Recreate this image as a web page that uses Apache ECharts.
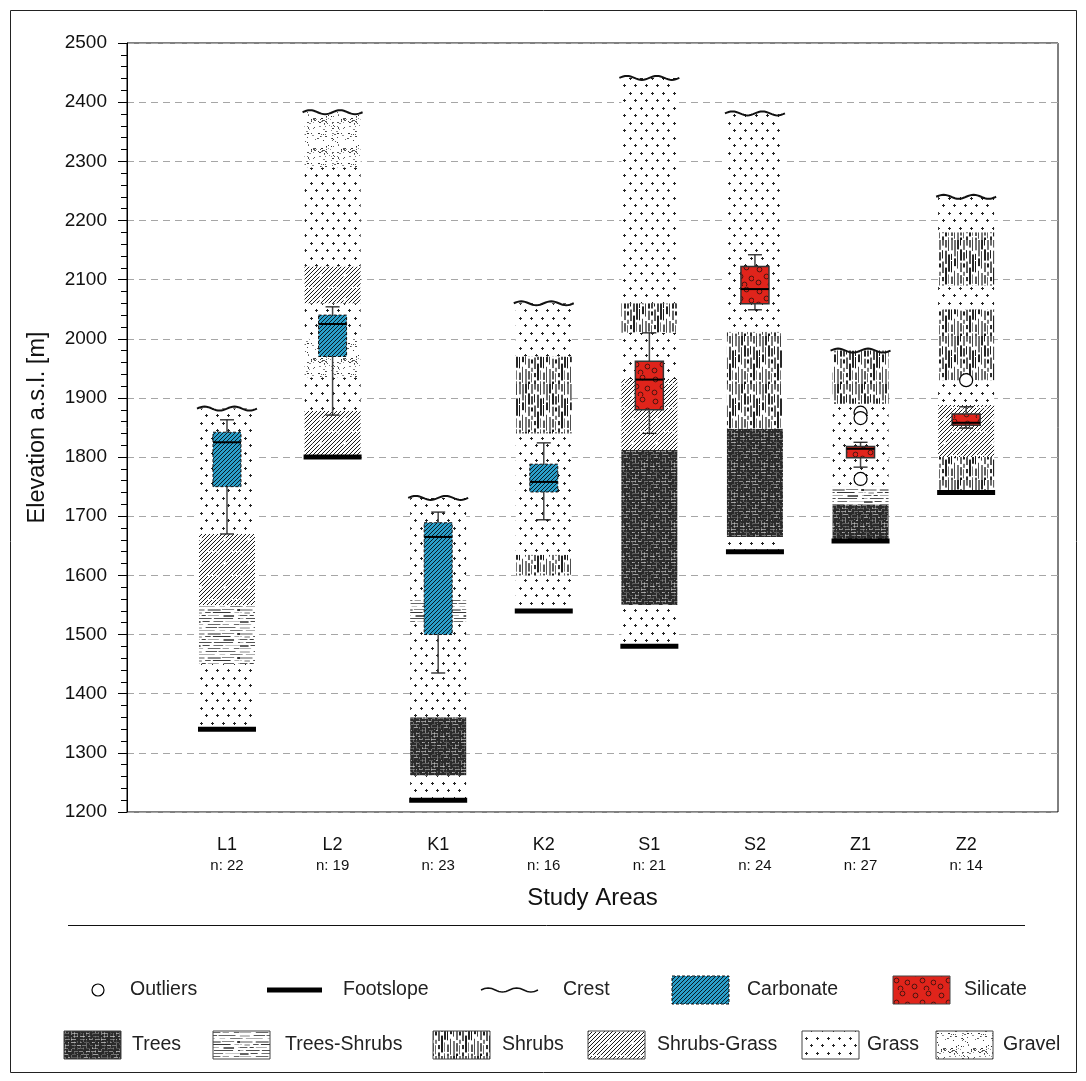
<!DOCTYPE html>
<html>
<head>
<meta charset="utf-8">
<script src="https://cdn.jsdelivr.net/npm/echarts@6/dist/echarts.min.js"></script>
<style>
  html, body { margin: 0; padding: 0; background: #fff; }
  #chart { width: 1086px; height: 1081px; }
</style>
</head>
<body>
<div id="chart"></div>
<script>
// study areas along the x axis
var areas = ['L1', 'L2', 'K1', 'K2', 'S1', 'S2', 'Z1', 'Z2'];
var sampleSizes = [22, 19, 23, 16, 21, 24, 27, 14];
var footslope = [1340, 1800, 1220, 1540, 1480, 1640, 1658, 1740];
var crest = [1882, 2383, 1731, 2060, 2441, 2381, 1980, 2240];
var rockType = ['Carbonate', 'Carbonate', 'Carbonate', 'Carbonate', 'Silicate', 'Silicate', 'Silicate', 'Silicate'];

// vegetation belts: [from, to, belt]
var beltsL1 = [[1340, 1450, 'Grass'], [1450, 1550, 'Trees-Shrubs'], [1550, 1670, 'Shrubs-Grass'], [1670, 1882, 'Grass']];
var beltsL2 = [[1800, 1878, 'Shrubs-Grass'], [1878, 1935, 'Grass'], [1935, 2000, 'Gravel'], [2000, 2060, 'Grass'],
               [2060, 2122, 'Shrubs-Grass'], [2122, 2290, 'Grass'], [2290, 2383, 'Gravel']];
var beltsK1 = [[1220, 1262, 'Grass'], [1262, 1360, 'Trees'], [1360, 1520, 'Grass'], [1520, 1560, 'Trees-Shrubs'], [1560, 1731, 'Grass']];
var beltsK2 = [[1540, 1600, 'Grass'], [1600, 1635, 'Shrubs'], [1635, 1840, 'Grass'], [1840, 1970, 'Shrubs'], [1970, 2060, 'Grass']];
var beltsS1 = [[1480, 1550, 'Grass'], [1550, 1812, 'Trees'], [1812, 1932, 'Shrubs-Grass'], [1932, 2010, 'Grass'],
               [2010, 2060, 'Shrubs'], [2060, 2441, 'Grass']];
var beltsS2 = [[1640, 1665, 'Grass'], [1665, 1848, 'Trees'], [1848, 2012, 'Shrubs'], [2012, 2381, 'Grass']];
var beltsZ1 = [[1658, 1720, 'Trees'], [1720, 1750, 'Trees-Shrubs'], [1750, 1890, 'Grass'], [1890, 1980, 'Shrubs']];
var beltsZ2 = [[1740, 1800, 'Shrubs'], [1800, 1888, 'Shrubs-Grass'], [1888, 1930, 'Grass'], [1930, 2050, 'Shrubs'],
               [2050, 2090, 'Grass'], [2090, 2180, 'Shrubs'], [2180, 2240, 'Grass']];
var belts = [beltsL1, beltsL2, beltsK1, beltsK2, beltsS1, beltsS2, beltsZ1, beltsZ2];

// box plot statistics of the sample elevations
var whiskerLow = [1670, 1871, 1435, 1694, 1840, 2049, 1783, 1849];
var q1 = [1750, 1970, 1500, 1741, 1880, 2059, 1799, 1854];
var median = [1825, 2025, 1665, 1758, 1931, 2084, 1814, 1858];
var q3 = [1842, 2040, 1689, 1788, 1962, 2122, 1818, 1873];
var whiskerHigh = [1863, 2054, 1707, 1824, 2010, 2142, 1825, 1885];
var outliers = [[7, 1875], [7, 1866], [7, 1763], [8, 1930]];

var beltNames = ['Trees', 'Trees-Shrubs', 'Shrubs', 'Shrubs-Grass', 'Grass', 'Gravel'];
var font = 'Liberation Sans, Arial, sans-serif';

// ---- textures ----
var seed = 4321;
function rnd() { seed = (seed * 16807) % 2147483647; return seed / 2147483647; }
function tile(w, h, bg, draw) {
  var c = document.createElement('canvas');
  c.width = w; c.height = h;
  var g = c.getContext('2d');
  g.fillStyle = bg; g.fillRect(0, 0, w, h);
  draw(g, w, h);
  return { image: c, repeat: 'repeat' };
}
function grey(v) { v = Math.round(v); return 'rgb(' + v + ',' + v + ',' + v + ')'; }

var fills = {};
fills['Grass'] = tile(22, 15, '#fff', function (g) {
  g.fillStyle = '#222';
  [[3, 3], [14, 3], [8, 10], [19, 10]].forEach(function (p) {
    g.fillRect(p[0] - 1, p[1], 3, 1);
    g.fillRect(p[0], p[1] - 1, 1, 3);
  });
});
fills['Gravel'] = tile(30, 30, '#fff', function (g, w, h) {
  for (var i = 0; i < 80; i++) {
    g.fillStyle = grey(40 + rnd() * 110);
    g.fillRect(Math.floor(rnd() * w), Math.floor(rnd() * h), rnd() < 0.3 ? 2 : 1, 1);
  }
});
fills['Shrubs-Grass'] = tile(24, 24, '#fff', function (g, w, h) {
  g.strokeStyle = '#1a1a1a'; g.lineWidth = 1; g.lineCap = 'butt';
  // strokes along x + 1.2y = c, repeated so the tile wraps cleanly
  for (var k = -2 * w; k < 2 * w; k += 4) {
    var t0 = rnd() * 0.1;
    while (t0 < 1) {
      var t1 = Math.min(1, t0 + 0.2 + rnd() * 0.35);
      for (var dx = -w; dx <= w; dx += w) {
        g.beginPath();
        g.moveTo(k + dx + t0 * h, h - t0 * h);
        g.lineTo(k + dx + t1 * h, h - t1 * h);
        g.stroke();
      }
      t0 = t1 + 0.06 + rnd() * 0.1;
    }
  }
});
fills['Shrubs'] = tile(24, 48, '#fff', function (g, w, h) {
  for (var x = 0; x < w; x += 3) {
    var y = -rnd() * 10;
    while (y < h) {
      var len = 4 + rnd() * 14;
      g.fillStyle = grey(15 + rnd() * 110);
      g.fillRect(x, y, rnd() < 0.5 ? 2 : 1, len);
      y += len + 1 + rnd() * 4;
    }
  }
});
fills['Trees-Shrubs'] = tile(48, 24, '#fff', function (g, w, h) {
  for (var y = 0; y < h; y += 3) {
    var x = -rnd() * 10;
    while (x < w) {
      var len = 4 + rnd() * 16;
      g.fillStyle = grey(50 + rnd() * 150);
      g.fillRect(x, y, len, rnd() < 0.35 ? 2 : 1);
      x += len + 1 + rnd() * 4;
    }
  }
});
fills['Trees'] = tile(30, 30, '#2a2a2a', function (g, w, h) {
  var y, x, len;
  for (y = 1; y < h; y += 3) {
    x = -rnd() * 6;
    while (x < w) {
      len = 1 + rnd() * 5;
      g.fillStyle = 'rgba(255,255,255,' + (0.15 + rnd() * 0.45).toFixed(2) + ')';
      g.fillRect(Math.round(x), y, Math.round(len), 1);
      x += len + 1 + rnd() * 4;
    }
  }
  for (x = 2; x < w; x += 3) {
    y = -rnd() * 6;
    while (y < h) {
      len = 1 + rnd() * 5;
      g.fillStyle = 'rgba(255,255,255,' + (0.1 + rnd() * 0.35).toFixed(2) + ')';
      g.fillRect(x, Math.round(y), 1, Math.round(len));
      y += len + 1 + rnd() * 4;
    }
  }
});
fills['Carbonate'] = tile(4, 4, '#2b9fca', function (g) {
  g.strokeStyle = '#0a1a22'; g.lineWidth = 1;
  [[0, 4, 4, 0], [-1, 1, 1, -1], [3, 5, 5, 3]].forEach(function (l) {
    g.beginPath(); g.moveTo(l[0], l[1]); g.lineTo(l[2], l[3]); g.stroke();
  });
});
fills['Silicate'] = tile(26, 22, '#e0241b', function (g) {
  g.strokeStyle = '#4a1510'; g.lineWidth = 1;
  [[5, 5], [18, 3], [12, 12], [23, 14], [4, 18], [16, 20]].forEach(function (p) {
    g.beginPath(); g.arc(p[0] + 0.5, p[1] + 0.5, 2.4, 0, Math.PI * 2); g.stroke();
  });
});

function wavePoints(x0, x1, y, amp) {
  var pts = [];
  for (var i = 0; i <= 32; i++) {
    pts.push([x0 + (x1 - x0) * i / 32, y - amp * Math.sin(i / 32 * Math.PI * 4)]);
  }
  return pts;
}

// ---- series data built from the arrays ----
var beltData = [];
belts.forEach(function (list, i) {
  list.forEach(function (b) { beltData.push([i + 1, b[0], b[1], beltNames.indexOf(b[2])]); });
});
var ridgeData = areas.map(function (a, i) { return [i + 1, footslope[i], crest[i]]; });
var boxData = areas.map(function (a, i) {
  return [i + 1, whiskerLow[i], q1[i], median[i], q3[i], whiskerHigh[i], rockType[i] === 'Carbonate' ? 0 : 1];
});

var colW = 56;
var chart = echarts.init(document.getElementById('chart'));

var legendRow1 = 991, legendRow2 = 1046;
function legendText(x, y, s) {
  return { type: 'text', left: x, top: y - 11, style: { text: s, font: '19.5px ' + font, fill: '#222' } };
}
function legendBox(x, y, fill, dashed) {
  return { type: 'rect', shape: { x: x, y: y - 15, width: 57, height: 28 },
           style: { fill: fill, stroke: dashed ? '#111' : '#444', lineWidth: 1, lineDash: dashed ? [3, 2] : null } };
}

var option = {
  animation: false,
  backgroundColor: '#fff',
  grid: { left: 127, right: 28, top: 43, bottom: 269, show: true, borderColor: '#000', borderWidth: 1 },
  xAxis: {
    type: 'value', min: 0.053, max: 8.87,
    name: 'Study Areas', nameLocation: 'middle', nameGap: 74,
    nameTextStyle: { fontSize: 24, fontFamily: font, color: '#111' },
    axisLine: { show: false }, axisTick: { show: false }, splitLine: { show: false },
    axisLabel: {
      customValues: [1, 2, 3, 4, 5, 6, 7, 8], margin: 22,
      formatter: function (v) {
        var i = Math.round(v) - 1;
        return '{a|' + areas[i] + '}\n{b|n: ' + sampleSizes[i] + '}';
      },
      rich: {
        a: { fontSize: 18, fontFamily: font, color: '#111', lineHeight: 22 },
        b: { fontSize: 15, fontFamily: font, color: '#111', lineHeight: 20 }
      }
    }
  },
  yAxis: {
    type: 'value', min: 1200, max: 2500, interval: 100,
    name: 'Elevation a.s.l. [m]', nameLocation: 'middle', nameGap: 77, nameRotate: 90,
    nameTextStyle: { fontSize: 23.5, fontFamily: font, color: '#111' },
    axisLine: { show: true, lineStyle: { color: '#000', width: 1 } },
    axisTick: { show: true, inside: false, length: 9, lineStyle: { color: '#000' } },
    minorTick: { show: true, splitNumber: 5, length: 6, lineStyle: { color: '#000' } },
    axisLabel: { fontSize: 19, fontFamily: font, color: '#111', margin: 20,
                 formatter: function (v) { return String(v); } },
    splitLine: { show: true, lineStyle: { color: '#a6a6a6', type: [7, 5], width: 1 } }
  },
  series: [
    {
      name: 'belts', type: 'custom', data: beltData, encode: { x: 0, y: [1, 2] }, z: 2,
      renderItem: function (params, api) {
        var top = api.coord([api.value(0), api.value(2)]);
        var bot = api.coord([api.value(0), api.value(1)]);
        return { type: 'rect', shape: { x: top[0] - colW / 2, y: top[1], width: colW, height: bot[1] - top[1] },
                 style: { fill: fills[beltNames[api.value(3)]] } };
      }
    },
    {
      name: 'ridge', type: 'custom', data: ridgeData, encode: { x: 0, y: [1, 2] }, z: 3,
      renderItem: function (params, api) {
        var f = api.coord([api.value(0), api.value(1)]);
        var c = api.coord([api.value(0), api.value(2)]);
        return { type: 'group', children: [
          { type: 'rect', shape: { x: f[0] - colW / 2 - 1, y: f[1] - 2.5, width: colW + 2, height: 5 }, style: { fill: '#000' } },
          { type: 'polyline', shape: { points: wavePoints(c[0] - colW / 2 - 2, c[0] + colW / 2 + 2, c[1], 2) },
            style: { stroke: '#111', lineWidth: 2, fill: null } }
        ] };
      }
    },
    {
      name: 'box', type: 'custom', data: boxData, encode: { x: 0, y: [1, 5] }, z: 4,
      renderItem: function (params, api) {
        var x = api.value(0);
        var lo = api.coord([x, api.value(1)]), a = api.coord([x, api.value(2)]), m = api.coord([x, api.value(3)]);
        var b = api.coord([x, api.value(4)]), hi = api.coord([x, api.value(5)]);
        var carb = api.value(6) === 0;
        var cx = lo[0], bw = 28, cw = 14;
        return { type: 'group', children: [
          { type: 'line', shape: { x1: cx, y1: hi[1], x2: cx, y2: lo[1] }, style: { stroke: '#444', lineWidth: 1.5 } },
          { type: 'line', shape: { x1: cx - cw / 2, y1: hi[1], x2: cx + cw / 2, y2: hi[1] }, style: { stroke: '#222', lineWidth: 1.3 } },
          { type: 'line', shape: { x1: cx - cw / 2, y1: lo[1], x2: cx + cw / 2, y2: lo[1] }, style: { stroke: '#222', lineWidth: 1.3 } },
          { type: 'rect', shape: { x: cx - bw / 2, y: b[1], width: bw, height: a[1] - b[1] },
            style: { fill: fills[carb ? 'Carbonate' : 'Silicate'], stroke: carb ? '#111' : '#333',
                     lineWidth: carb ? 1 : 1.5, lineDash: carb ? [3, 2] : null } },
          { type: 'line', shape: { x1: cx - bw / 2, y1: m[1], x2: cx + bw / 2, y2: m[1] }, style: { stroke: '#000', lineWidth: 2 } }
        ] };
      }
    },
    {
      name: 'Outliers', type: 'scatter', data: outliers, z: 5,
      symbol: 'circle', symbolSize: 13,
      itemStyle: { color: '#fff', borderColor: '#000', borderWidth: 1.2, opacity: 1 }
    }
  ],
  graphic: [
    { type: 'rect', shape: { x: 10.5, y: 10.5, width: 1066, height: 1062 }, style: { fill: null, stroke: '#222', lineWidth: 1 }, silent: true },
    { type: 'line', shape: { x1: 68, y1: 925.5, x2: 1025, y2: 925.5 }, style: { stroke: '#111', lineWidth: 1 } },
    { type: 'circle', shape: { cx: 98, cy: legendRow1 - 1, r: 6 }, style: { fill: '#fff', stroke: '#000', lineWidth: 1.2 } },
    legendText(130, legendRow1, 'Outliers'),
    { type: 'line', shape: { x1: 267, y1: legendRow1 - 1, x2: 322, y2: legendRow1 - 1 }, style: { stroke: '#000', lineWidth: 5 } },
    legendText(343, legendRow1, 'Footslope'),
    { type: 'polyline', shape: { points: wavePoints(481, 538, legendRow1 - 1, 2) }, style: { stroke: '#111', lineWidth: 1.5, fill: null } },
    legendText(563, legendRow1, 'Crest'),
    legendBox(672, legendRow1, fills['Carbonate'], true),
    legendText(747, legendRow1, 'Carbonate'),
    legendBox(893, legendRow1, fills['Silicate'], false),
    legendText(964, legendRow1, 'Silicate'),
    legendBox(64, legendRow2, fills['Trees'], false),
    legendText(132, legendRow2, 'Trees'),
    legendBox(213, legendRow2, fills['Trees-Shrubs'], false),
    legendText(285, legendRow2, 'Trees-Shrubs'),
    legendBox(433, legendRow2, fills['Shrubs'], false),
    legendText(502, legendRow2, 'Shrubs'),
    legendBox(588, legendRow2, fills['Shrubs-Grass'], false),
    legendText(657, legendRow2, 'Shrubs-Grass'),
    legendBox(802, legendRow2, fills['Grass'], false),
    legendText(867, legendRow2, 'Grass'),
    legendBox(936, legendRow2, fills['Gravel'], false),
    legendText(1003, legendRow2, 'Gravel')
  ]
};

chart.setOption(option);
</script>
</body>
</html>
